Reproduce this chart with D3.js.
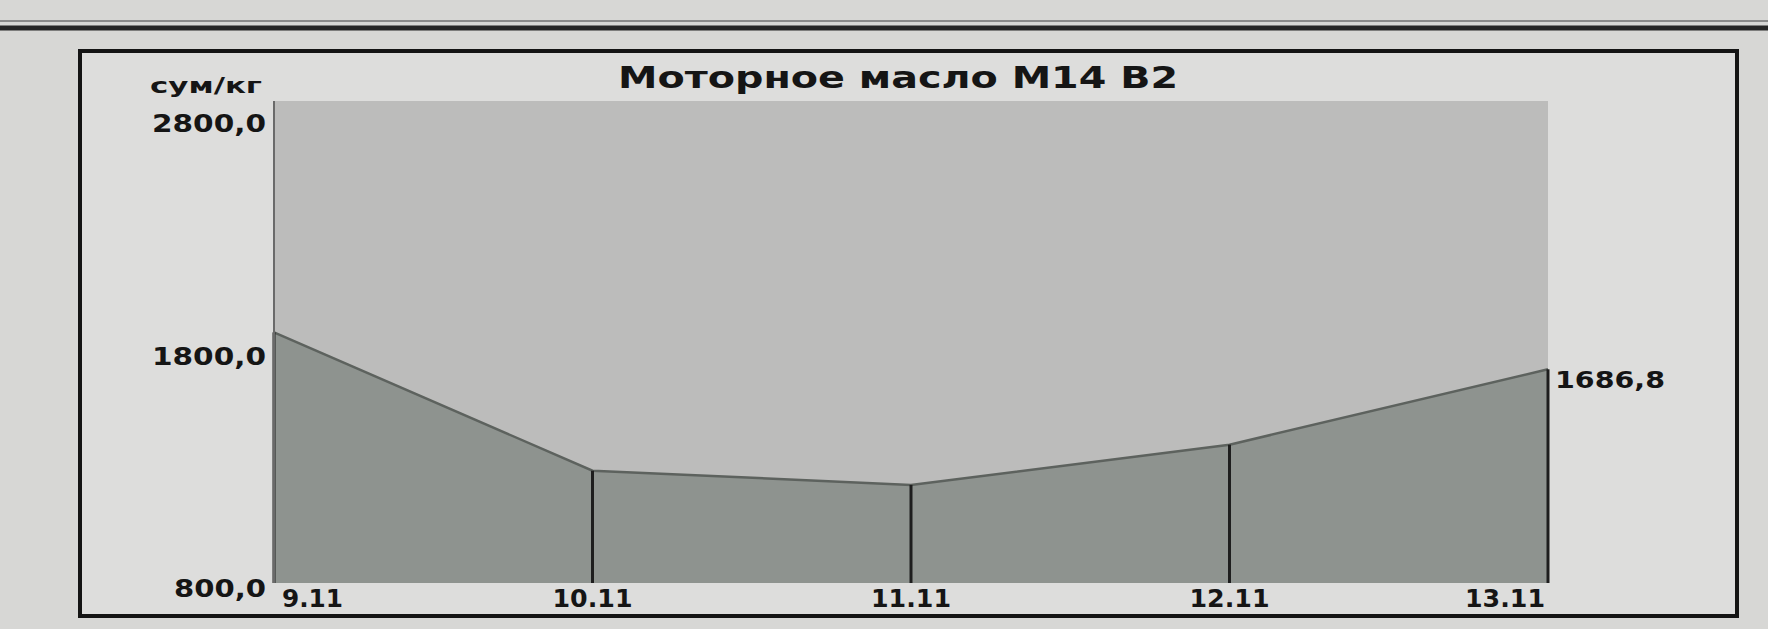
<!DOCTYPE html>
<html>
<head>
<meta charset="utf-8">
<script src="https://cdn.jsdelivr.net/npm/d3@7"></script>
<style>
  html, body { margin: 0; padding: 0; background: #d7d7d5; }
  svg { display: block; }
  text { font-family: "DejaVu Sans", sans-serif; font-weight: bold; fill: #151515; }
</style>
</head>
<body>
<svg id="chart" width="1768" height="629"></svg>
<script>
// ---- data ----
const title = "Моторное масло М14 В2";
const unitLabel = "сум/кг";
const categories = ["9.11", "10.11", "11.11", "12.11", "13.11"];
const values = [1840, 1266, 1207, 1374, 1686.8];
const yTicks = [800, 2800, 1800];
const yTickLabels = ["800,0", "2800,0", "1800,0"];
const lastValueLabel = "1686,8";

// ---- layout ----
const W = 1768, H = 629;
const plot = { left: 274, right: 1548, top: 101, bottom: 583 };

const svg = d3.select("#chart");

// page background
svg.append("rect").attr("x", 0).attr("y", 0).attr("width", W).attr("height", H).attr("fill", "#d7d7d5");

// top rules (double line)
svg.append("line").attr("x1", 0).attr("x2", W).attr("y1", 21).attr("y2", 21)
  .attr("stroke", "#8a8a8a").attr("stroke-width", 2);
svg.append("line").attr("x1", 0).attr("x2", W).attr("y1", 28).attr("y2", 28)
  .attr("stroke", "#262626").attr("stroke-width", 5);

// chart frame
svg.append("rect").attr("x", 80).attr("y", 51).attr("width", 1657).attr("height", 565)
  .attr("fill", "#dddddc").attr("stroke", "#141414").attr("stroke-width", 4);

// scales
const x = d3.scalePoint().domain(categories).range([plot.left, plot.right]);
const y = d3.scaleLinear().domain([800, 2800]).range([plot.bottom, plot.top]);
// tick label placement (labels sit slightly below their gridline in the original)
const yLab = d3.scaleLinear().domain([800, 2800]).range([597, 132]);

// plot background
svg.append("rect").attr("x", plot.left).attr("y", plot.top)
  .attr("width", plot.right - plot.left).attr("height", plot.bottom - plot.top)
  .attr("fill", "#bcbcbb");

const data = categories.map((c, i) => ({ c, v: values[i] }));

// area
const area = d3.area().x(d => x(d.c)).y0(y(800)).y1(d => y(d.v));
svg.append("path").datum(data).attr("d", area).attr("fill", "#8e938f");

// top edge of area
const line = d3.line().x(d => x(d.c)).y(d => y(d.v));
svg.append("path").datum(data).attr("d", line).attr("fill", "none")
  .attr("stroke", "#5d625e").attr("stroke-width", 2.5);

// vertical drop lines
svg.selectAll("line.drop").data(data).enter().append("line")
  .attr("class", "drop")
  .attr("x1", d => x(d.c)).attr("x2", d => x(d.c))
  .attr("y1", d => y(d.v)).attr("y2", y(800))
  .attr("stroke", "#1e1e1e").attr("stroke-width", 3);

// left plot edge
svg.append("line").attr("x1", plot.left).attr("x2", plot.left)
  .attr("y1", plot.top).attr("y2", plot.bottom)
  .attr("stroke", "#6a6a6a").attr("stroke-width", 2);

// title
svg.append("text").attr("x", 898).attr("y", 88).attr("text-anchor", "middle")
  .attr("font-size", 30).attr("textLength", 560).attr("lengthAdjust", "spacingAndGlyphs")
  .text(title);

// unit label
svg.append("text").attr("x", 150).attr("y", 93)
  .attr("font-size", 21).attr("textLength", 112).attr("lengthAdjust", "spacingAndGlyphs")
  .text(unitLabel);

// y tick labels
svg.selectAll("text.ytick").data(yTicks).enter().append("text")
  .attr("class", "ytick")
  .attr("x", 266).attr("y", d => yLab(d))
  .attr("text-anchor", "end")
  .attr("font-size", 24)
  .attr("textLength", (d, i) => yTickLabels[i].length === 5 ? 92 : 114)
  .attr("lengthAdjust", "spacingAndGlyphs")
  .text((d, i) => yTickLabels[i]);

// x tick labels
svg.selectAll("text.xtick").data(categories).enter().append("text")
  .attr("class", "xtick")
  .attr("x", (d, i) => i === 0 ? x(d) + 8 : (i === categories.length - 1 ? x(d) - 3 : x(d)))
  .attr("y", 607)
  .attr("text-anchor", (d, i) => i === 0 ? "start" : (i === categories.length - 1 ? "end" : "middle"))
  .attr("font-size", 24)
  .attr("textLength", d => d.length === 4 ? 61 : 80)
  .attr("lengthAdjust", "spacingAndGlyphs")
  .text(d => d);

// last value label
const last = data[data.length - 1];
svg.append("text").attr("x", x(last.c) + 7).attr("y", y(last.v) + 19)
  .attr("font-size", 23).attr("textLength", 110).attr("lengthAdjust", "spacingAndGlyphs")
  .text(lastValueLabel);
</script>
</body>
</html>
